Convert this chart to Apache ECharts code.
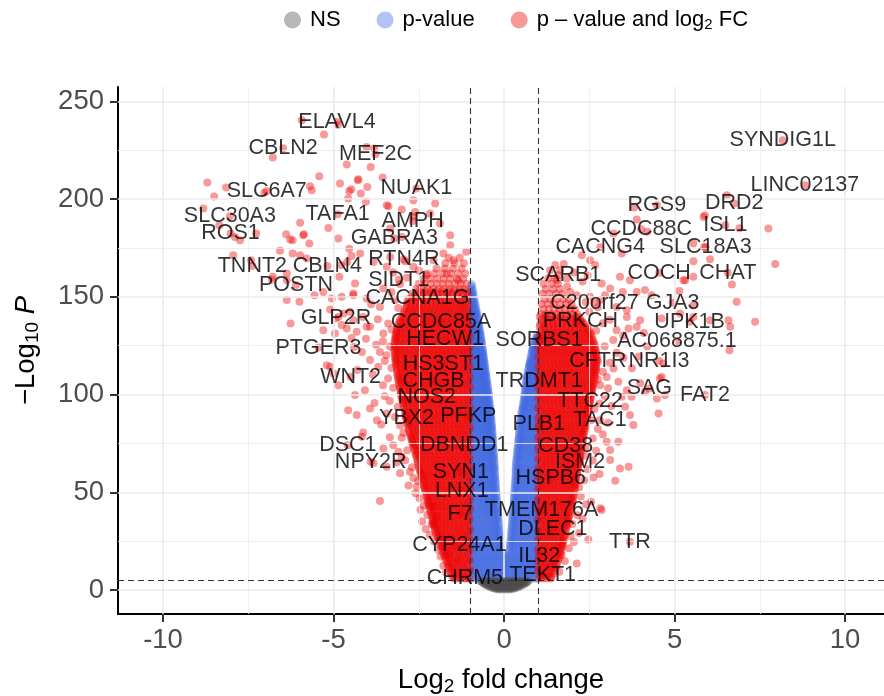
<!DOCTYPE html>
<html><head><meta charset="utf-8">
<script src="https://cdn.jsdelivr.net/npm/echarts@6/dist/echarts.min.js"></script>
<style>html,body{margin:0;padding:0;background:#fff}#c{width:884px;height:696px}</style>
</head><body><div id="c"></div>
<script>
const FONT = 'Liberation Sans, Arial, Helvetica, sans-serif';
const xTicks = [-10, -5, 0, 5, 10];
const yTicks = [0, 50, 100, 150, 200, 250];
const xMinor = [-7.5, -2.5, 2.5, 7.5];
const yMinor = [25, 75, 125, 175, 225];
const fcCutoffs = [-1, 1];
const pCutoff = 5;
const legendNames = ['NS', 'p-value', 'p – value and log2 FC'];

// labelled genes: [name, log2FC, -log10 P]
const labeledGenes = [
 ['ELAVL4',-4.9,239.5],['CBLN2',-6.48,226],['MEF2C',-3.77,222.9],['SLC6A7',-6.96,204.1],['NUAK1',-2.57,205.4],
 ['SLC30A3',-8.04,191.2],['TAFA1',-4.88,192.2],['AMPH',-2.68,188.7],['ROS1',-8.02,182.4],['GABRA3',-3.22,179.8],
 ['RTN4R',-2.94,169.1],['TNNT2',-7.38,165.7],['CBLN4',-5.18,165.7],['SIDT1',-3.09,158.7],['POSTN',-6.1,156],
 ['CACNA1G',-2.54,149.5],['GLP2R',-4.93,138.9],['CCDC85A',-1.85,136.8],['PTGER3',-5.44,124],['HECW1',-1.73,128.2],
 ['HS3ST1',-1.78,115.4],['WNT2',-4.5,109.1],['CHGB',-2.07,107],['NOS2',-2.27,98.8],['PFKP',-1.05,89],
 ['YBX2',-2.86,87.8],['DSC1',-4.58,74.1],['DBNDD1',-1.17,74.1],['NPY2R',-3.91,65.6],['SYN1',-1.27,60.5],
 ['LNX1',-1.24,50.6],['F7',-1.29,38.7],['CYP24A1',-1.31,23.2],['CHRM5',-1.15,6],
 ['SYNDIG1L',8.17,230],['LINC02137',8.82,207],['RGS9',4.48,196.8],['DRD2',6.75,197.7],['ISL1',6.49,186.6],
 ['CCDC88C',4.02,184.5],['CACNG4',2.82,175.3],['SLC18A3',5.91,175.3],['SCARB1',1.59,161],['COCH',4.55,162.3],
 ['CHAT',6.56,162.3],['C20orf27',2.65,147],['GJA3',4.94,147],['PRKCH',2.24,137.4],['UPK1B',5.44,137.2],
 ['AC068875.1',5.07,127.4],['SORBS1',1.03,127.8],['CFTR',2.75,117.2],['NR1I3',4.54,117.2],['TRDMT1',1.03,107],
 ['SAG',4.26,103.1],['FAT2',5.89,99.7],['TTC22',2.52,96.7],['TAC1',2.81,86.9],['PLB1',1.02,84.8],
 ['CD38',1.81,73.7],['ISM2',2.23,65.6],['HSPB6',1.37,57.1],['TMEM176A',1.1,40.9],['DLEC1',1.43,31.1],
 ['TTR',3.69,24.7],['IL32',1.03,17.5],['TEKT1',1.13,7.8]
];

// scattered significant genes, down-regulated side
const redSparseLeft = [
[-5.93,240.3],[-4.87,238],[-5.28,233],[-6.78,221.2],[-4.03,226.6],[-3.81,225.8],[-4.61,217.6],[-3.91,216.4],[-5.42,211.7],[-8.7,208.4],[-8.15,205.9],[-7.03,203.2],[-5.69,206.5],[-5.64,204.5],[-4.81,207.9],[-4.29,209.6],[-4.01,206.2],[-4.54,204],[-3.56,211],[-4.57,200.3],[-4.2,202.8],[-4.05,198.6],[-8.5,201.3],[-8.82,195.1],[-8.35,186.6],[-7.89,180.6],[-7.27,182.4],[-5.98,187.9],[-5.15,185.2],[-4.86,179.8],[-6.39,182],[-6.27,179.3],[-5.87,182],[-5.71,177.3],[-3.39,196.3],[-2.66,199.4],[-2.61,193.4],[-2.02,197.7],[-1.58,181.5],[-1.58,176.4],[-1.11,173],[-7.94,171.3],[-6.57,173.5],[-6.2,172.1],[-5.98,171.3],[-4.47,170.8],[-4.6,167.8],[-4.78,166.2],[-6.78,160.2],[-6.37,158.5],[-6.37,148.3],[-6,147.4],[-4.83,160.2],[-4.37,156.8],[-6.26,136.3],[-5.1,143.5],
[-4.48,205],[-4.27,210.1],[-7.74,178.9],[-6.2,178.9],[-5.89,181.5],[-7.42,168.7],[-4.54,174.6],[-5.79,169.6],[-6.37,161.9],[-6.81,158.8],[-3.34,170.4],[-5.56,150.8],[-5.3,152.5],[-5.05,149.1],[-4.76,150],[-4.42,150.8],[-3.54,154.2],[-3.2,148.3],[-3.64,144.8],[-4.86,139.7],[-4.52,142.3],[-4.13,139.7],[-5.3,132.9],[-4.96,131.2],[-4.61,133.8],[-4.32,132.1],[-3.93,134.6],[-3.54,131.2],
[-5.1,114.2],[-4.86,104.8],[-4.37,99.7],[-4.57,92],[-4.32,89.5],[-4.08,102.2],[-4.17,121.8],[-3.93,117.6],[-3.64,121.8],[-3.69,114.2],[-4.76,135.5],[-4.47,128.9],[-3.93,92.9],[-3.73,86.9],[-3.44,90.3],[-3.54,72.4],[-3.25,74.1],[-3.1,70.7],[-2.76,60.5],[-3.05,59.7],[-3.64,45.5],[-2.56,52.8],[-2.32,52],[-4.17,78.4],[-3.83,64.8],[-3.44,63],[-4.13,80.6],[-3.0,68.1],[-5.2,115],[-5.0,110.8],[-2.07,42.6],[-1.97,37.5],[-1.63,17.9],[-1.34,15.3],
[-3.44,196.8],[-3.0,194.6],[-2.66,190.9],[-2.17,192.6],[-1.88,187.5],[-3.34,184.9],[-3.0,180.6],[-1.78,172.1],[-1.49,168.7],[-2.07,168.7],[-4.22,172.1],[-3.83,167.8],[-3.44,165.3],[-2.66,165.3],[-2.27,161],[-1.68,161.9],[-1.34,158.5],[-4.42,151.7],[-4.03,149.1],[-4.71,141.5],[-4.42,138],[-4.03,134.6],
[-1.78,12.4],[-1.86,17.2],[-1.92,20.5],[-1.7,8.8],[-2.05,24.8],[-2.18,28.3],[-2.12,33.6],[-2.3,31.2],[-2.25,38.4],[-2.4,35.1],[-2.35,43.2],[-2.48,46.9],[-2.6,49.5],[-2.52,55.8],[-2.66,57.3],[-2.8,53.4],[-2.45,41],[-2.7,62.8],[-2.9,66.4],[-2.84,71.5],[-3.0,77.9],[-3.15,65.2],[-2.95,80.4],[-3.35,78.1],[-3.05,84.2],[-3.2,88.5],[-3.12,93.8],[-3.35,96.7],[-3.5,99.1],[-3.6,84.6],[-3.8,95.6],[-3.25,103.5],[-3.4,108.2],[-3.55,104.7],[-3.3,113.6],[-3.5,117.2],[-3.85,110.3],[-4.3,112.5],[-3.45,120.1],[-3.35,124.6],[-3.55,127.3],[-3.75,125.4],[-3.4,136.3],[-3.7,138.5],[-4.05,128.5],[-4.4,124.3],[-3.3,133.2],[-3.1,144.2],[-3.3,152.3],[-3.9,146.2],[-3.05,156.5],[-2.85,159.7],[-3.25,162.4],[-2.5,163.5],[-2.9,168.2]
];

// scattered significant genes, up-regulated side
const redSparseRight = [
[3.81,195.6],[3.89,189.5],[4.2,183.2],[5.89,191.7],[7.75,184.9],[6.9,185],[2.28,171.3],[2.52,168.7],[2.67,166.2],[1.5,166.2],[1.35,163.6],[3.45,172.1],[5.55,168.2],[6.04,169.2],[7.95,166.7],[3.4,160.2],[3.69,158.5],[5.31,158.5],[5.55,160.2],[6.68,156.3],[2.86,156.8],[3.11,154.2],[2.96,150.8],[3.89,152.5],[4.13,153.4],[4.33,150.8],[1.94,152.5],[2.13,150.8],[5.55,145.7],[6.82,147.4],[7.36,137.2],[6.58,138],[6.63,134.6],[3.6,139.7],[3.89,134.6],[3.65,133.8],[6.61,122.7],
[6.53,201.9],[5.85,190.8],[3.21,182.4],[5.55,177.3],[5.87,175.5],[1.64,163.6],[1.84,159.4],[3.48,152.5],[5.14,153],[5.26,158.5],[2.52,150],[2.82,148.3],[3.99,138],[4.62,138.9],[5.16,141.5],[5.55,139.7],[6.04,138],[3.3,144.8],[3.6,143.1],
[4.62,109],[4.53,90.3],[3.69,89.5],[3.79,84.4],[3.01,75.8],[3.35,75.8],[3.11,66.5],[3.4,62.2],[3.65,63],[2.62,57.6],[3.26,55.9],[2.82,41.8],[2.47,25.9],[1.69,17.9],[4.67,115.9],[4.57,108.2],[3.99,105.7],[4.13,101.4],[3.6,102.2],[3.45,98.8],[3.74,98.8],[3.01,109],[3.21,113.3],[3.35,106.5],[2.82,104.8],[3.55,93.7],[4.72,99.7],[4.48,98],[3.11,71.6],[2.86,40.9],[2.13,13.6],
[1.62,9.4],[1.78,14.8],[1.9,21.3],[2.05,24.6],[2.2,29.1],[1.95,27.6],[2.0,33.8],[2.15,38.2],[2.3,36.5],[2.4,43.7],[2.25,47.8],[2.55,45.2],[2.2,52.6],[2.35,56.1],[2.45,61.8],[2.6,66.3],[2.8,59.4],[2.38,68.7],[2.45,73.2],[2.6,77.5],[2.75,82.4],[2.9,79.6],[2.55,86.8],[3.05,85.5],[2.7,71.2],[2.65,92.6],[2.8,95.4],[2.95,99.2],[3.15,94.1],[2.75,107.7],[3.05,103.2],[2.9,111.6],[3.1,116.3],[3.3,121.4],[3.5,118.8],[2.95,124.7],[3.2,127.9],[3.75,113.4],[3.95,119.5],[4.2,124.6],[3.5,130.2],[4.1,131.5],[2.7,132.6],[2.9,136.4],[3.1,138.2],[2.5,142.3],[2.75,144.6],[2.4,147.3],[3.3,132.9],[1.85,155.3],[2.3,157.8],[1.55,158.6],[2.05,162.4],[1.75,166.8],[2.45,160.9]
];

// dense band of significant down-regulated genes: [-log10P, [log2FC...]]
const redLeftRows = [
[5.9,[-1.03,-1.14,-1.27,-1.39,-1.47]],
[7.1,[-1.09,-1.21,-1.33,-1.45,-1.52]],
[8.4,[-1.07,-1.2,-1.32,-1.44,-1.55]],
[9.7,[-1.0,-1.13,-1.25,-1.37,-1.49,-1.58]],
[11.1,[-1.02,-1.15,-1.26,-1.4,-1.51,-1.61]],
[12.3,[-1.09,-1.21,-1.33,-1.45,-1.57,-1.64]],
[13.6,[-1.08,-1.19,-1.33,-1.45,-1.57,-1.66]],
[14.9,[-1.0,-1.12,-1.25,-1.37,-1.49,-1.61,-1.69]],
[16.3,[-1.03,-1.14,-1.28,-1.4,-1.52,-1.63,-1.72]],
[17.5,[-1.09,-1.21,-1.33,-1.46,-1.58,-1.7,-1.75]],
[18.8,[-1.06,-1.2,-1.31,-1.44,-1.56,-1.68,-1.78]],
[20.1,[-1.0,-1.12,-1.24,-1.36,-1.48,-1.6,-1.71,-1.8]],
[21.5,[-1.02,-1.15,-1.27,-1.39,-1.5,-1.63,-1.74,-1.83]],
[22.7,[-1.09,-1.21,-1.33,-1.45,-1.57,-1.69,-1.8,-1.86]],
[24.0,[-1.08,-1.19,-1.32,-1.45,-1.56,-1.69,-1.8,-1.89]],
[25.3,[-1.0,-1.12,-1.24,-1.36,-1.48,-1.6,-1.72,-1.83,-1.91]],
[26.7,[-1.03,-1.14,-1.26,-1.4,-1.51,-1.63,-1.76,-1.87,-1.94]],
[27.9,[-1.09,-1.21,-1.33,-1.45,-1.57,-1.69,-1.81,-1.92,-1.97]],
[29.2,[-1.06,-1.2,-1.31,-1.43,-1.57,-1.68,-1.81,-1.92,-2.0]],
[30.5,[-1.0,-1.12,-1.24,-1.36,-1.48,-1.6,-1.72,-1.84,-1.95,-2.02]],
[31.9,[-1.02,-1.15,-1.27,-1.38,-1.5,-1.64,-1.75,-1.87,-1.98,-2.04]],
[33.1,[-1.09,-1.21,-1.33,-1.45,-1.57,-1.69,-1.81,-1.93,-2.04,-2.07]],
[34.4,[-1.07,-1.19,-1.32,-1.45,-1.56,-1.69,-1.8,-1.93,-2.03,-2.09]],
[35.7,[-1.0,-1.12,-1.24,-1.36,-1.48,-1.6,-1.72,-1.84,-1.96,-2.06,-2.1]],
[37.1,[-1.03,-1.14,-1.27,-1.39,-1.51,-1.63,-1.76,-1.88,-1.99,-2.1]],
[38.3,[-1.09,-1.21,-1.33,-1.45,-1.57,-1.69,-1.81,-1.93,-2.05,-2.13]],
[39.6,[-1.08,-1.2,-1.31,-1.44,-1.57,-1.68,-1.81,-1.93,-2.05,-2.15]],
[40.9,[-1.0,-1.12,-1.24,-1.36,-1.48,-1.6,-1.72,-1.84,-1.96,-2.08,-2.17]],
[42.3,[-1.02,-1.15,-1.26,-1.38,-1.5,-1.63,-1.75,-1.86,-1.99,-2.11,-2.19]],
[43.5,[-1.09,-1.21,-1.33,-1.45,-1.57,-1.69,-1.81,-1.93,-2.05,-2.17,-2.21]],
[44.8,[-1.06,-1.19,-1.32,-1.45,-1.56,-1.69,-1.81,-1.92,-2.04,-2.16,-2.23]],
[46.1,[-1.0,-1.12,-1.24,-1.36,-1.48,-1.6,-1.72,-1.84,-1.96,-2.08,-2.2,-2.25]],
[47.5,[-1.03,-1.14,-1.27,-1.39,-1.51,-1.64,-1.75,-1.88,-2.0,-2.12,-2.22,-2.27]],
[48.7,[-1.09,-1.21,-1.33,-1.45,-1.57,-1.69,-1.81,-1.93,-2.05,-2.17,-2.28]],
[50.0,[-1.07,-1.2,-1.31,-1.44,-1.57,-1.68,-1.8,-1.93,-2.05,-2.17,-2.3]],
[51.3,[-1.0,-1.12,-1.24,-1.36,-1.48,-1.6,-1.72,-1.84,-1.96,-2.08,-2.2,-2.32]],
[52.7,[-1.02,-1.15,-1.27,-1.38,-1.5,-1.63,-1.76,-1.87,-1.99,-2.11,-2.23,-2.34]],
[53.9,[-1.09,-1.21,-1.33,-1.45,-1.57,-1.69,-1.81,-1.93,-2.05,-2.17,-2.29,-2.36]],
[55.2,[-1.08,-1.19,-1.32,-1.45,-1.56,-1.69,-1.81,-1.93,-2.04,-2.17,-2.28,-2.38]],
[56.5,[-1.0,-1.12,-1.24,-1.36,-1.48,-1.6,-1.72,-1.84,-1.96,-2.08,-2.2,-2.32,-2.4]],
[57.9,[-1.03,-1.14,-1.26,-1.39,-1.51,-1.63,-1.75,-1.88,-2.0,-2.12,-2.24,-2.35,-2.42]],
[59.1,[-1.09,-1.21,-1.33,-1.45,-1.57,-1.69,-1.81,-1.93,-2.05,-2.17,-2.29,-2.41,-2.44]],
[60.4,[-1.06,-1.2,-1.31,-1.44,-1.57,-1.68,-1.8,-1.92,-2.05,-2.18,-2.29,-2.4,-2.46]],
[61.7,[-1.0,-1.12,-1.24,-1.36,-1.48,-1.6,-1.72,-1.84,-1.96,-2.08,-2.2,-2.32,-2.44,-2.48]],
[63.1,[-1.02,-1.15,-1.27,-1.38,-1.5,-1.64,-1.76,-1.87,-1.99,-2.11,-2.23,-2.36,-2.5]],
[64.3,[-1.09,-1.21,-1.33,-1.45,-1.57,-1.69,-1.81,-1.93,-2.05,-2.17,-2.29,-2.41,-2.52]],
[65.6,[-1.07,-1.19,-1.32,-1.45,-1.56,-1.69,-1.81,-1.93,-2.04,-2.16,-2.29,-2.41,-2.53]],
[66.9,[-1.0,-1.12,-1.24,-1.36,-1.48,-1.6,-1.72,-1.84,-1.96,-2.08,-2.2,-2.32,-2.44,-2.55]],
[68.3,[-1.03,-1.14,-1.27,-1.39,-1.51,-1.63,-1.75,-1.88,-2.0,-2.12,-2.24,-2.35,-2.47,-2.57]],
[69.5,[-1.09,-1.21,-1.33,-1.45,-1.57,-1.69,-1.81,-1.93,-2.05,-2.17,-2.29,-2.41,-2.53,-2.59]],
[70.8,[-1.08,-1.2,-1.31,-1.44,-1.57,-1.68,-1.8,-1.92,-2.05,-2.18,-2.3,-2.42,-2.53,-2.61]],
[72.1,[-1.0,-1.12,-1.24,-1.36,-1.48,-1.6,-1.72,-1.84,-1.96,-2.08,-2.2,-2.32,-2.44,-2.56,-2.64]],
[73.5,[-1.02,-1.15,-1.26,-1.38,-1.5,-1.63,-1.76,-1.87,-1.99,-2.11,-2.24,-2.36,-2.48,-2.6,-2.66]],
[74.7,[-1.09,-1.21,-1.33,-1.45,-1.57,-1.69,-1.81,-1.93,-2.05,-2.17,-2.29,-2.41,-2.53,-2.65,-2.68]],
[76.0,[-1.06,-1.19,-1.32,-1.45,-1.56,-1.69,-1.81,-1.93,-2.04,-2.17,-2.29,-2.41,-2.54,-2.66,-2.7]],
[77.3,[-1.0,-1.12,-1.24,-1.36,-1.48,-1.6,-1.72,-1.84,-1.96,-2.08,-2.2,-2.32,-2.44,-2.56,-2.68,-2.72]],
[78.7,[-1.03,-1.14,-1.27,-1.39,-1.51,-1.64,-1.75,-1.88,-2.0,-2.12,-2.23,-2.36,-2.48,-2.59,-2.71,-2.74]],
[79.9,[-1.09,-1.21,-1.33,-1.45,-1.57,-1.69,-1.81,-1.93,-2.05,-2.17,-2.29,-2.41,-2.53,-2.65,-2.76]],
[81.2,[-1.07,-1.2,-1.31,-1.44,-1.57,-1.68,-1.8,-1.92,-2.05,-2.17,-2.3,-2.42,-2.54,-2.65,-2.78]],
[82.5,[-1.0,-1.12,-1.24,-1.36,-1.48,-1.6,-1.72,-1.84,-1.96,-2.08,-2.2,-2.32,-2.44,-2.56,-2.68,-2.8]],
[83.9,[-1.02,-1.15,-1.27,-1.38,-1.5,-1.63,-1.76,-1.87,-1.99,-2.11,-2.24,-2.35,-2.48,-2.6,-2.72,-2.81]],
[85.1,[-1.09,-1.21,-1.33,-1.45,-1.57,-1.69,-1.81,-1.93,-2.05,-2.17,-2.29,-2.41,-2.53,-2.65,-2.77,-2.83]],
[86.4,[-1.08,-1.19,-1.32,-1.45,-1.56,-1.69,-1.81,-1.93,-2.04,-2.16,-2.29,-2.41,-2.53,-2.66,-2.78,-2.85]],
[87.7,[-1.0,-1.12,-1.24,-1.36,-1.48,-1.6,-1.72,-1.84,-1.96,-2.08,-2.2,-2.32,-2.44,-2.56,-2.68,-2.8,-2.87]],
[89.1,[-1.03,-1.14,-1.26,-1.39,-1.51,-1.64,-1.75,-1.88,-2.0,-2.12,-2.24,-2.36,-2.47,-2.6,-2.71,-2.83,-2.89]],
[90.3,[-1.09,-1.21,-1.33,-1.45,-1.57,-1.69,-1.81,-1.93,-2.05,-2.17,-2.29,-2.41,-2.53,-2.65,-2.77,-2.89]],
[91.6,[-1.06,-1.2,-1.31,-1.44,-1.57,-1.68,-1.8,-1.92,-2.05,-2.18,-2.29,-2.41,-2.54,-2.65,-2.77,-2.9]],
[92.9,[-1.0,-1.12,-1.24,-1.36,-1.48,-1.6,-1.72,-1.84,-1.96,-2.08,-2.2,-2.32,-2.44,-2.56,-2.68,-2.8,-2.92]],
[94.3,[-1.02,-1.15,-1.27,-1.38,-1.5,-1.63,-1.76,-1.87,-1.99,-2.11,-2.23,-2.35,-2.48,-2.6,-2.72,-2.84,-2.95]],
[95.5,[-1.09,-1.21,-1.33,-1.45,-1.57,-1.69,-1.81,-1.93,-2.05,-2.17,-2.29,-2.41,-2.53,-2.65,-2.77,-2.89,-2.96]],
[96.8,[-1.07,-1.19,-1.32,-1.45,-1.56,-1.69,-1.81,-1.93,-2.04,-2.17,-2.29,-2.42,-2.53,-2.66,-2.78,-2.9,-2.98]],
[98.1,[-1.0,-1.12,-1.24,-1.36,-1.48,-1.6,-1.72,-1.84,-1.96,-2.08,-2.2,-2.32,-2.44,-2.56,-2.68,-2.8,-2.92,-3.0]],
[99.5,[-1.03,-1.14,-1.27,-1.39,-1.51,-1.63,-1.75,-1.88,-2.0,-2.12,-2.24,-2.36,-2.48,-2.59,-2.72,-2.84,-2.96,-3.02]],
[100.7,[-1.09,-1.21,-1.33,-1.45,-1.57,-1.69,-1.81,-1.93,-2.05,-2.17,-2.29,-2.41,-2.53,-2.65,-2.77,-2.89,-3.01,-3.03]],
[102.0,[-1.08,-1.2,-1.31,-1.44,-1.57,-1.68,-1.8,-1.92,-2.05,-2.17,-2.3,-2.41,-2.54,-2.66,-2.78,-2.9,-3.04]],
[103.3,[-1.0,-1.12,-1.24,-1.36,-1.48,-1.6,-1.72,-1.84,-1.96,-2.08,-2.2,-2.32,-2.44,-2.56,-2.68,-2.8,-2.92,-3.05]],
[104.7,[-1.02,-1.15,-1.26,-1.38,-1.5,-1.64,-1.76,-1.87,-1.99,-2.11,-2.24,-2.36,-2.47,-2.6,-2.72,-2.84,-2.96,-3.07]],
[105.9,[-1.09,-1.21,-1.33,-1.45,-1.57,-1.69,-1.81,-1.93,-2.05,-2.17,-2.29,-2.41,-2.53,-2.65,-2.77,-2.89,-3.01,-3.08]],
[107.2,[-1.06,-1.19,-1.32,-1.45,-1.56,-1.69,-1.81,-1.93,-2.04,-2.16,-2.29,-2.41,-2.53,-2.65,-2.78,-2.9,-3.02,-3.1]],
[108.5,[-1.0,-1.12,-1.24,-1.36,-1.48,-1.6,-1.72,-1.84,-1.96,-2.08,-2.2,-2.32,-2.44,-2.56,-2.68,-2.8,-2.92,-3.04,-3.11]],
[109.9,[-1.03,-1.14,-1.27,-1.39,-1.51,-1.63,-1.75,-1.88,-2.0,-2.12,-2.23,-2.35,-2.48,-2.6,-2.71,-2.84,-2.96,-3.08,-3.13]],
[111.1,[-1.09,-1.21,-1.33,-1.45,-1.57,-1.69,-1.81,-1.93,-2.05,-2.17,-2.29,-2.41,-2.53,-2.65,-2.77,-2.89,-3.01,-3.13]],
[112.4,[-1.07,-1.2,-1.31,-1.44,-1.57,-1.68,-1.8,-1.92,-2.05,-2.18,-2.3,-2.42,-2.54,-2.66,-2.77,-2.9,-3.02,-3.14]],
[113.7,[-1.0,-1.12,-1.24,-1.36,-1.48,-1.6,-1.72,-1.84,-1.96,-2.08,-2.2,-2.32,-2.44,-2.56,-2.68,-2.8,-2.92,-3.04,-3.15]],
[115.1,[-1.02,-1.15,-1.27,-1.38,-1.5,-1.63,-1.76,-1.87,-1.99,-2.11,-2.24,-2.36,-2.48,-2.59,-2.72,-2.84,-2.95,-3.07,-3.17]],
[116.3,[-1.09,-1.21,-1.33,-1.45,-1.57,-1.69,-1.81,-1.93,-2.05,-2.17,-2.29,-2.41,-2.53,-2.65,-2.77,-2.89,-3.01,-3.13,-3.18]],
[117.6,[-1.08,-1.19,-1.32,-1.45,-1.56,-1.69,-1.81,-1.93,-2.04,-2.17,-2.29,-2.41,-2.53,-2.66,-2.78,-2.9,-3.02,-3.14,-3.19]],
[118.9,[-1.0,-1.12,-1.24,-1.36,-1.48,-1.6,-1.72,-1.84,-1.96,-2.08,-2.2,-2.32,-2.44,-2.56,-2.68,-2.8,-2.92,-3.04,-3.16,-3.2]],
[120.3,[-1.03,-1.14,-1.26,-1.39,-1.51,-1.64,-1.75,-1.88,-2.0,-2.12,-2.24,-2.36,-2.47,-2.6,-2.72,-2.84,-2.96,-3.08,-3.2]],
[121.5,[-1.09,-1.21,-1.33,-1.45,-1.57,-1.69,-1.81,-1.93,-2.05,-2.17,-2.29,-2.41,-2.53,-2.65,-2.77,-2.89,-3.01,-3.13,-3.21]],
[122.8,[-1.06,-1.2,-1.31,-1.44,-1.57,-1.68,-1.8,-1.92,-2.05,-2.17,-2.29,-2.42,-2.54,-2.65,-2.78,-2.9,-3.01,-3.13,-3.22]],
[124.1,[-1.0,-1.12,-1.24,-1.36,-1.48,-1.6,-1.72,-1.84,-1.96,-2.08,-2.2,-2.32,-2.44,-2.56,-2.68,-2.8,-2.92,-3.04,-3.16,-3.22]],
[125.5,[-1.02,-1.15,-1.27,-1.38,-1.5,-1.63,-1.76,-1.87,-1.99,-2.11,-2.23,-2.35,-2.48,-2.6,-2.71,-2.84,-2.96,-3.08,-3.21]],
[126.7,[-1.09,-1.21,-1.33,-1.45,-1.57,-1.69,-1.81,-1.93,-2.05,-2.17,-2.29,-2.41,-2.53,-2.65,-2.77,-2.89,-3.01,-3.13,-3.21]],
[128.0,[-1.07,-1.19,-1.32,-1.45,-1.56,-1.69,-1.81,-1.93,-2.04,-2.16,-2.29,-2.41,-2.53,-2.66,-2.77,-2.9,-3.02,-3.15,-3.2]],
[129.3,[-1.0,-1.12,-1.24,-1.36,-1.48,-1.6,-1.72,-1.84,-1.96,-2.08,-2.2,-2.32,-2.44,-2.56,-2.68,-2.8,-2.92,-3.04,-3.16,-3.19]],
[130.7,[-1.03,-1.14,-1.27,-1.39,-1.51,-1.63,-1.75,-1.88,-2.0,-2.12,-2.24,-2.36,-2.48,-2.6,-2.72,-2.84,-2.96,-3.08,-3.18]],
[131.9,[-1.09,-1.21,-1.33,-1.45,-1.57,-1.69,-1.81,-1.93,-2.05,-2.17,-2.29,-2.41,-2.53,-2.65,-2.77,-2.89,-3.01,-3.13,-3.16]],
[133.2,[-1.08,-1.2,-1.31,-1.44,-1.57,-1.68,-1.8,-1.92,-2.05,-2.18,-2.3,-2.41,-2.54,-2.66,-2.78,-2.9,-3.02,-3.15]],
[134.5,[-1.0,-1.12,-1.24,-1.36,-1.48,-1.6,-1.72,-1.84,-1.96,-2.08,-2.2,-2.32,-2.44,-2.56,-2.68,-2.8,-2.92,-3.04,-3.12]],
[135.9,[-1.04,-1.15,-1.26,-1.38,-1.5,-1.64,-1.76,-1.87,-1.99,-2.11,-2.24,-2.36,-2.47,-2.6,-2.72,-2.84,-2.96,-3.1]],
[137.1,[-1.09,-1.21,-1.33,-1.45,-1.57,-1.69,-1.81,-1.93,-2.05,-2.17,-2.29,-2.41,-2.53,-2.65,-2.77,-2.89,-3.01,-3.07]],
[138.4,[-1.09,-1.19,-1.32,-1.45,-1.56,-1.69,-1.81,-1.93,-2.04,-2.17,-2.29,-2.41,-2.53,-2.65,-2.78,-2.9,-3.05]],
[139.7,[-1.02,-1.14,-1.26,-1.38,-1.5,-1.62,-1.74,-1.86,-1.98,-2.1,-2.22,-2.34,-2.46,-2.58,-2.7,-2.82,-2.94,-3.0]],
[141.1,[-1.05,-1.14,-1.27,-1.39,-1.51,-1.63,-1.75,-1.88,-2.0,-2.12,-2.23,-2.35,-2.48,-2.6,-2.71,-2.84,-2.96]],
[142.3,[-1.12,-1.24,-1.36,-1.48,-1.6,-1.72,-1.84,-1.96,-2.08,-2.2,-2.32,-2.44,-2.56,-2.68,-2.8,-2.92]],
[143.6,[-1.1,-1.2,-1.31,-1.44,-1.57,-1.68,-1.8,-1.92,-2.05,-2.17,-2.3,-2.42,-2.54,-2.66,-2.77,-2.9]],
[144.9,[-1.05,-1.17,-1.29,-1.41,-1.53,-1.65,-1.77,-1.89,-2.01,-2.13,-2.25,-2.37,-2.49,-2.61,-2.73,-2.86]],
[146.3,[-1.06,-1.18,-1.27,-1.38,-1.5,-1.63,-1.76,-1.87,-1.99,-2.11,-2.24,-2.36,-2.48,-2.59,-2.72,-2.85]],
[147.5,[-1.15,-1.3,-1.44,-1.58,-1.72,-1.86,-2.0,-2.14,-2.28,-2.42,-2.56,-2.7,-2.83]],
[148.8,[-1.12,-1.25,-1.36,-1.49,-1.62,-1.75,-1.88,-2.01,-2.14,-2.27,-2.4,-2.53,-2.66,-2.8]],
[150.1,[-1.06,-1.2,-1.35,-1.5,-1.65,-1.8,-1.95,-2.1,-2.25,-2.4,-2.55,-2.68]],
[151.5,[-1.08,-1.22,-1.37,-1.52,-1.66,-1.8,-1.95,-2.1,-2.25,-2.4,-2.55,-2.7]],
[152.8,[-1.12,-1.3,-1.47,-1.64,-1.81,-1.98,-2.15,-2.32,-2.5]],
[154.0,[-1.15,-1.3,-1.46,-1.6,-1.77,-1.92,-2.08,-2.24,-2.41,-2.58]],
[156.7,[-1.1,-1.27,-1.44,-1.62,-1.79,-1.97,-2.15,-2.33,-2.5]],
[159.2,[-1.2,-1.38,-1.58,-1.77,-1.96,-2.16,-2.36]],
[161.9,[-1.14,-1.35,-1.56,-1.8,-2.03,-2.25]],
[164.4,[-1.25,-1.5,-1.74,-1.98]],
[167.1,[-1.18,-1.45,-1.72]],
[170.0,[-1.3,-1.62]]
];

// dense band of significant up-regulated genes
const redRightRows = [
[5.9,[1.03,1.14,1.26,1.37]],
[7.1,[1.09,1.21,1.33,1.4]],
[8.4,[1.07,1.19,1.31,1.43]],
[9.7,[1.0,1.12,1.24,1.36,1.47]],
[11.1,[1.02,1.14,1.26,1.38,1.5]],
[12.3,[1.09,1.21,1.33,1.45,1.53]],
[13.6,[1.08,1.2,1.32,1.44,1.55]],
[14.9,[1.0,1.12,1.24,1.36,1.48,1.58]],
[16.3,[1.03,1.15,1.27,1.39,1.51,1.61]],
[17.5,[1.09,1.21,1.33,1.45,1.57,1.63]],
[18.8,[1.06,1.18,1.3,1.42,1.54,1.65]],
[20.1,[1.0,1.12,1.24,1.36,1.48,1.6,1.67]],
[21.5,[1.02,1.14,1.26,1.38,1.5,1.62,1.69]],
[22.7,[1.09,1.21,1.33,1.45,1.57,1.69,1.71]],
[24.0,[1.08,1.2,1.32,1.44,1.56,1.67,1.73]],
[25.3,[1.0,1.12,1.24,1.36,1.48,1.6,1.72,1.75]],
[26.7,[1.03,1.15,1.27,1.39,1.51,1.63,1.75]],
[27.9,[1.09,1.21,1.33,1.45,1.57,1.69,1.78]],
[29.2,[1.07,1.19,1.31,1.43,1.55,1.67,1.79]],
[30.5,[1.0,1.12,1.24,1.36,1.48,1.6,1.72,1.81]],
[31.9,[1.02,1.14,1.26,1.38,1.5,1.62,1.74,1.83]],
[33.1,[1.09,1.21,1.33,1.45,1.57,1.69,1.81,1.85]],
[34.4,[1.08,1.2,1.32,1.44,1.56,1.68,1.8,1.87]],
[35.7,[1.0,1.12,1.24,1.36,1.48,1.6,1.72,1.84,1.88]],
[37.1,[1.03,1.15,1.27,1.39,1.51,1.63,1.75,1.86,1.9]],
[38.3,[1.09,1.21,1.33,1.45,1.57,1.69,1.81,1.92]],
[39.6,[1.06,1.18,1.3,1.42,1.54,1.66,1.78,1.9,1.94]],
[40.9,[1.0,1.12,1.24,1.36,1.48,1.6,1.72,1.84,1.95]],
[42.3,[1.02,1.14,1.26,1.38,1.5,1.62,1.74,1.86,1.97]],
[43.5,[1.09,1.21,1.33,1.45,1.57,1.69,1.81,1.93,1.99]],
[44.8,[1.08,1.2,1.32,1.44,1.56,1.68,1.8,1.92,2.0]],
[46.1,[1.0,1.12,1.24,1.36,1.48,1.6,1.72,1.84,1.96,2.02]],
[47.5,[1.03,1.15,1.27,1.39,1.51,1.63,1.75,1.87,1.98,2.03]],
[48.7,[1.09,1.21,1.33,1.45,1.57,1.69,1.81,1.93,2.04]],
[50.0,[1.07,1.19,1.31,1.43,1.55,1.67,1.79,1.91,2.05]],
[51.3,[1.0,1.12,1.24,1.36,1.48,1.6,1.72,1.84,1.96,2.07]],
[52.7,[1.02,1.14,1.26,1.38,1.5,1.62,1.74,1.86,1.98,2.08]],
[53.9,[1.09,1.21,1.33,1.45,1.57,1.69,1.81,1.93,2.05,2.09]],
[55.2,[1.08,1.2,1.32,1.44,1.56,1.68,1.8,1.92,2.03,2.1]],
[56.5,[1.0,1.12,1.24,1.36,1.48,1.6,1.72,1.84,1.96,2.08,2.11]],
[57.9,[1.03,1.15,1.27,1.39,1.51,1.63,1.75,1.87,1.99,2.12]],
[59.1,[1.09,1.21,1.33,1.45,1.57,1.69,1.81,1.93,2.05,2.14]],
[60.4,[1.06,1.18,1.3,1.42,1.54,1.66,1.78,1.9,2.02,2.15]],
[61.7,[1.0,1.12,1.24,1.36,1.48,1.6,1.72,1.84,1.96,2.08,2.16]],
[63.1,[1.02,1.14,1.26,1.38,1.5,1.62,1.74,1.86,1.98,2.1,2.18]],
[64.3,[1.09,1.21,1.33,1.45,1.57,1.69,1.81,1.93,2.05,2.17,2.19]],
[65.6,[1.08,1.2,1.32,1.44,1.56,1.68,1.8,1.92,2.04,2.15,2.2]],
[66.9,[1.0,1.12,1.24,1.36,1.48,1.6,1.72,1.84,1.96,2.08,2.2,2.22]],
[68.3,[1.03,1.15,1.27,1.39,1.51,1.63,1.75,1.87,1.99,2.11,2.23]],
[69.5,[1.09,1.21,1.33,1.45,1.57,1.69,1.81,1.93,2.05,2.17,2.24]],
[70.8,[1.07,1.19,1.31,1.43,1.55,1.67,1.79,1.91,2.03,2.15,2.25]],
[72.1,[1.0,1.12,1.24,1.36,1.48,1.6,1.72,1.84,1.96,2.08,2.2,2.27]],
[73.5,[1.02,1.14,1.26,1.38,1.5,1.62,1.74,1.86,1.98,2.1,2.21,2.28]],
[74.7,[1.09,1.21,1.33,1.45,1.57,1.69,1.81,1.93,2.05,2.17,2.29]],
[76.0,[1.08,1.2,1.32,1.44,1.56,1.68,1.8,1.92,2.04,2.16,2.3]],
[77.3,[1.0,1.12,1.24,1.36,1.48,1.6,1.72,1.84,1.96,2.08,2.2,2.31]],
[78.7,[1.03,1.15,1.27,1.39,1.51,1.63,1.75,1.87,1.99,2.11,2.23,2.33]],
[79.9,[1.09,1.21,1.33,1.45,1.57,1.69,1.81,1.93,2.05,2.17,2.29,2.34]],
[81.2,[1.06,1.18,1.3,1.42,1.54,1.66,1.78,1.9,2.02,2.14,2.26,2.36]],
[82.5,[1.0,1.12,1.24,1.36,1.48,1.6,1.72,1.84,1.96,2.08,2.2,2.32,2.37]],
[83.9,[1.02,1.14,1.26,1.38,1.5,1.62,1.74,1.86,1.98,2.1,2.22,2.34,2.39]],
[85.1,[1.09,1.21,1.33,1.45,1.57,1.69,1.81,1.93,2.05,2.17,2.29,2.4]],
[86.4,[1.08,1.2,1.32,1.44,1.56,1.68,1.8,1.92,2.04,2.16,2.28,2.41]],
[87.7,[1.0,1.12,1.24,1.36,1.48,1.6,1.72,1.84,1.96,2.08,2.2,2.32,2.42]],
[89.1,[1.03,1.15,1.27,1.39,1.51,1.63,1.75,1.87,1.99,2.11,2.23,2.35,2.44]],
[90.3,[1.09,1.21,1.33,1.45,1.57,1.69,1.81,1.93,2.05,2.17,2.29,2.41,2.45]],
[91.6,[1.07,1.19,1.31,1.43,1.55,1.67,1.79,1.91,2.03,2.15,2.27,2.39,2.46]],
[92.9,[1.0,1.12,1.24,1.36,1.48,1.6,1.72,1.84,1.96,2.08,2.2,2.32,2.44,2.48]],
[94.3,[1.02,1.14,1.26,1.38,1.5,1.62,1.74,1.86,1.98,2.1,2.22,2.34,2.46,2.5]],
[95.5,[1.09,1.21,1.33,1.45,1.57,1.69,1.81,1.93,2.05,2.17,2.29,2.41,2.51]],
[96.8,[1.08,1.2,1.32,1.44,1.56,1.68,1.8,1.92,2.04,2.16,2.28,2.4,2.52]],
[98.1,[1.0,1.12,1.24,1.36,1.48,1.6,1.72,1.84,1.96,2.08,2.2,2.32,2.44,2.54]],
[99.5,[1.03,1.15,1.27,1.39,1.51,1.63,1.75,1.87,1.99,2.11,2.23,2.35,2.47,2.55]],
[100.7,[1.09,1.21,1.33,1.45,1.57,1.69,1.81,1.93,2.05,2.17,2.29,2.41,2.53,2.57]],
[102.0,[1.06,1.18,1.3,1.42,1.54,1.66,1.78,1.9,2.02,2.14,2.26,2.38,2.5,2.58]],
[103.3,[1.0,1.12,1.24,1.36,1.48,1.6,1.72,1.84,1.96,2.08,2.2,2.32,2.44,2.56,2.6]],
[104.7,[1.02,1.14,1.26,1.38,1.5,1.62,1.74,1.86,1.98,2.1,2.22,2.34,2.46,2.58,2.61]],
[105.9,[1.09,1.21,1.33,1.45,1.57,1.69,1.81,1.93,2.05,2.17,2.29,2.41,2.53,2.63]],
[107.2,[1.08,1.2,1.32,1.44,1.56,1.68,1.8,1.92,2.04,2.16,2.28,2.4,2.52,2.64]],
[108.5,[1.0,1.12,1.24,1.36,1.48,1.6,1.72,1.84,1.96,2.08,2.2,2.32,2.44,2.56,2.66]],
[109.9,[1.03,1.15,1.27,1.39,1.51,1.63,1.75,1.87,1.99,2.11,2.23,2.35,2.47,2.59,2.67]],
[111.1,[1.09,1.21,1.33,1.45,1.57,1.69,1.81,1.93,2.05,2.17,2.29,2.41,2.53,2.65,2.68]],
[112.4,[1.07,1.19,1.31,1.43,1.55,1.67,1.79,1.91,2.03,2.15,2.27,2.39,2.51,2.63,2.7]],
[113.7,[1.0,1.12,1.24,1.36,1.48,1.6,1.72,1.84,1.96,2.08,2.2,2.32,2.44,2.56,2.68,2.7]],
[115.1,[1.02,1.14,1.26,1.38,1.5,1.62,1.74,1.86,1.98,2.1,2.22,2.34,2.46,2.58,2.7]],
[116.3,[1.09,1.21,1.33,1.45,1.57,1.69,1.81,1.93,2.05,2.17,2.29,2.41,2.53,2.65,2.71]],
[117.6,[1.08,1.2,1.32,1.44,1.56,1.68,1.8,1.92,2.04,2.16,2.28,2.4,2.52,2.64,2.72]],
[118.9,[1.0,1.12,1.24,1.36,1.48,1.6,1.72,1.84,1.96,2.08,2.2,2.32,2.44,2.56,2.68,2.72]],
[120.3,[1.03,1.15,1.27,1.39,1.51,1.63,1.75,1.87,1.99,2.11,2.23,2.35,2.47,2.59,2.71]],
[121.5,[1.09,1.21,1.33,1.45,1.57,1.69,1.81,1.93,2.05,2.17,2.29,2.41,2.53,2.65,2.7]],
[122.8,[1.06,1.18,1.3,1.42,1.54,1.66,1.78,1.9,2.02,2.14,2.26,2.38,2.5,2.62,2.69]],
[124.1,[1.0,1.12,1.24,1.36,1.48,1.6,1.72,1.84,1.96,2.08,2.2,2.32,2.44,2.56,2.67]],
[125.5,[1.03,1.15,1.27,1.39,1.51,1.63,1.75,1.87,1.99,2.11,2.23,2.35,2.47,2.59,2.66]],
[126.7,[1.09,1.21,1.33,1.45,1.57,1.69,1.81,1.93,2.05,2.17,2.29,2.41,2.53,2.63]],
[128.0,[1.08,1.2,1.32,1.44,1.56,1.68,1.8,1.92,2.04,2.16,2.28,2.4,2.52,2.6]],
[129.3,[1.02,1.14,1.26,1.38,1.5,1.62,1.74,1.86,1.98,2.1,2.22,2.34,2.46,2.57]],
[130.7,[1.05,1.17,1.29,1.41,1.53,1.65,1.77,1.89,2.01,2.13,2.25,2.37,2.49,2.55]],
[131.9,[1.11,1.23,1.35,1.47,1.59,1.71,1.83,1.95,2.07,2.19,2.31,2.43,2.51]],
[133.2,[1.1,1.22,1.34,1.46,1.58,1.7,1.82,1.94,2.06,2.18,2.3,2.42,2.48]],
[134.5,[1.04,1.17,1.3,1.43,1.56,1.69,1.82,1.95,2.08,2.21,2.34,2.42]],
[135.9,[1.06,1.19,1.32,1.45,1.58,1.71,1.84,1.97,2.1,2.23,2.36]],
[137.1,[1.14,1.28,1.42,1.56,1.7,1.84,1.98,2.12,2.26,2.3]],
[138.4,[1.12,1.26,1.4,1.54,1.68,1.82,1.96,2.1,2.24]],
[139.7,[1.05,1.2,1.35,1.5,1.65,1.8,1.95,2.1,2.19]],
[141.1,[1.08,1.23,1.38,1.53,1.68,1.83,1.98,2.14]],
[143.6,[1.15,1.31,1.47,1.63,1.79,1.95,2.08]],
[146.3,[1.1,1.28,1.46,1.64,1.82,1.98]],
[148.8,[1.18,1.36,1.55,1.74,1.9]],
[151.5,[1.12,1.32,1.52,1.72]],
[154.0,[1.22,1.44,1.63]],
[156.7,[1.16,1.4,1.58]],
[159.5,[1.3,1.5]]
];

// genes passing the p-value cut-off only: [-log10P, [log2FC...]]
const blueRows = [
[5.8,[-0.97,-0.85,-0.73,-0.61,-0.49,-0.37,-0.25,-0.13,-0.01,0.11,0.23,0.35,0.47,0.59,0.71,0.83,0.95]],
[7.1,[-0.91,-0.79,-0.67,-0.55,-0.43,-0.31,-0.19,-0.07,0.05,0.17,0.29,0.41,0.53,0.65,0.77,0.89]],
[8.3,[-0.92,-0.8,-0.68,-0.56,-0.44,-0.32,-0.2,-0.08,0.05,0.17,0.29,0.41,0.53,0.65,0.77,0.89,0.98]],
[9.6,[-0.97,-0.85,-0.73,-0.61,-0.49,-0.37,-0.25,-0.13,-0.01,0.11,0.23,0.35,0.47,0.59,0.71,0.83,0.95]],
[10.9,[-0.97,-0.85,-0.73,-0.61,-0.49,-0.37,-0.25,-0.13,-0.02,0.1,0.22,0.34,0.46,0.58,0.7,0.82,0.94]],
[12.2,[-0.91,-0.79,-0.67,-0.55,-0.43,-0.31,-0.19,-0.07,0.05,0.17,0.29,0.41,0.53,0.65,0.77,0.89,0.98]],
[13.4,[-0.92,-0.8,-0.68,-0.56,-0.44,-0.32,-0.2,-0.08,0.04,0.16,0.28,0.4,0.52,0.64,0.76,0.88,0.98]],
[14.7,[-0.97,-0.85,-0.73,-0.61,-0.49,-0.37,-0.25,-0.13,-0.01,0.11,0.23,0.35,0.47,0.59,0.71,0.83,0.95]],
[16.0,[-0.97,-0.85,-0.73,-0.61,-0.49,-0.37,-0.25,-0.13,-0.01,0.11,0.23,0.35,0.47,0.59,0.71,0.83,0.95]],
[17.3,[-0.91,-0.79,-0.67,-0.55,-0.43,-0.31,-0.19,-0.07,0.05,0.17,0.29,0.41,0.53,0.65,0.77,0.89,0.98]],
[18.6,[-0.98,-0.86,-0.74,-0.62,-0.5,-0.38,-0.26,-0.14,-0.02,0.1,0.22,0.34,0.46,0.58,0.7,0.82,0.94]],
[19.9,[-0.92,-0.8,-0.68,-0.56,-0.44,-0.32,-0.2,-0.09,0.16,0.28,0.4,0.52,0.64,0.76,0.88,0.98]],
[21.2,[-0.92,-0.8,-0.68,-0.56,-0.44,-0.32,-0.2,-0.1,0.17,0.29,0.41,0.53,0.65,0.77,0.89,0.98]],
[22.5,[-0.98,-0.86,-0.74,-0.62,-0.5,-0.38,-0.26,-0.15,-0.1,0.17,0.24,0.36,0.48,0.6,0.72,0.84,0.96]],
[23.8,[-0.98,-0.86,-0.74,-0.62,-0.5,-0.38,-0.26,-0.11,0.18,0.3,0.42,0.54,0.66,0.78,0.9]],
[25.1,[-0.92,-0.8,-0.68,-0.56,-0.44,-0.32,-0.2,-0.11,0.19,0.25,0.37,0.49,0.61,0.73,0.85,0.97]],
[26.4,[-0.92,-0.8,-0.68,-0.56,-0.44,-0.32,-0.21,-0.12,0.2,0.31,0.43,0.55,0.67,0.79,0.91,0.98]],
[27.7,[-0.98,-0.86,-0.74,-0.62,-0.5,-0.38,-0.27,-0.18,-0.12,0.2,0.27,0.39,0.51,0.63,0.75,0.87,0.98]],
[29.0,[-0.98,-0.86,-0.74,-0.62,-0.5,-0.38,-0.26,-0.13,0.21,0.33,0.45,0.57,0.69,0.81,0.93]],
[30.3,[-0.92,-0.8,-0.68,-0.56,-0.44,-0.32,-0.21,-0.14,0.21,0.28,0.4,0.52,0.64,0.76,0.88,0.98]],
[31.6,[-0.92,-0.8,-0.68,-0.56,-0.44,-0.32,-0.22,-0.15,0.22,0.34,0.46,0.58,0.7,0.82,0.94]],
[32.9,[-0.98,-0.86,-0.74,-0.62,-0.5,-0.39,-0.28,-0.15,0.23,0.29,0.41,0.53,0.65,0.77,0.89]],
[34.2,[-0.98,-0.86,-0.74,-0.62,-0.5,-0.38,-0.27,-0.16,0.23,0.35,0.47,0.59,0.71,0.83,0.95]],
[35.5,[-0.92,-0.8,-0.68,-0.56,-0.44,-0.33,-0.22,-0.16,0.24,0.3,0.42,0.54,0.66,0.78,0.9,0.98]],
[36.8,[-0.92,-0.8,-0.68,-0.56,-0.44,-0.33,-0.24,-0.17,0.24,0.33,0.45,0.57,0.69,0.81,0.93,0.98]],
[38.1,[-0.98,-0.86,-0.74,-0.62,-0.51,-0.4,-0.29,-0.17,0.25,0.32,0.44,0.56,0.68,0.8,0.92]],
[39.4,[-0.98,-0.86,-0.74,-0.62,-0.5,-0.39,-0.28,-0.18,0.26,0.38,0.5,0.62,0.74,0.86,0.97]],
[40.7,[-0.92,-0.8,-0.68,-0.57,-0.46,-0.35,-0.25,-0.19,0.26,0.32,0.42,0.53,0.65,0.77,0.89,0.98]],
[42.0,[-0.92,-0.8,-0.68,-0.56,-0.45,-0.35,-0.27,-0.2,0.27,0.36,0.47,0.59,0.71,0.83,0.95]],
[43.3,[-0.98,-0.86,-0.74,-0.62,-0.51,-0.41,-0.31,-0.2,0.28,0.34,0.46,0.58,0.7,0.82,0.94]],
[44.6,[-0.98,-0.86,-0.74,-0.62,-0.51,-0.4,-0.3,-0.21,0.28,0.4,0.52,0.64,0.76,0.88,0.98]],
[45.9,[-0.92,-0.8,-0.69,-0.58,-0.47,-0.37,-0.28,-0.21,0.29,0.34,0.44,0.55,0.67,0.79,0.91,0.98]],
[47.2,[-0.92,-0.8,-0.68,-0.57,-0.46,-0.36,-0.28,-0.22,0.29,0.38,0.49,0.61,0.73,0.85,0.96]],
[48.5,[-0.98,-0.86,-0.75,-0.64,-0.53,-0.43,-0.33,-0.22,0.3,0.36,0.48,0.6,0.72,0.84,0.96]],
[49.8,[-0.98,-0.86,-0.74,-0.62,-0.51,-0.41,-0.32,-0.23,0.3,0.42,0.54,0.66,0.78,0.9]],
[51.1,[-0.92,-0.81,-0.7,-0.59,-0.48,-0.38,-0.3,-0.23,0.31,0.37,0.46,0.57,0.69,0.81,0.93]],
[52.4,[-0.92,-0.8,-0.69,-0.58,-0.47,-0.37,-0.29,-0.24,0.31,0.4,0.51,0.63,0.75,0.87,0.98]],
[53.7,[-0.98,-0.87,-0.76,-0.65,-0.54,-0.44,-0.34,-0.24,0.32,0.38,0.5,0.62,0.74,0.86,0.98]],
[55.0,[-0.98,-0.86,-0.74,-0.63,-0.52,-0.42,-0.33,-0.25,0.32,0.44,0.56,0.68,0.8,0.92]],
[56.3,[-0.92,-0.81,-0.7,-0.6,-0.5,-0.4,-0.32,-0.25,0.33,0.39,0.48,0.59,0.71,0.83,0.95]],
[57.6,[-0.92,-0.81,-0.7,-0.59,-0.48,-0.38,-0.3,-0.26,0.33,0.42,0.53,0.65,0.77,0.89,0.98]],
[58.9,[-0.98,-0.87,-0.76,-0.65,-0.55,-0.45,-0.36,-0.26,0.34,0.4,0.52,0.64,0.76,0.88,0.98]],
[60.2,[-0.98,-0.86,-0.75,-0.64,-0.53,-0.43,-0.34,-0.27,0.34,0.46,0.58,0.7,0.82,0.94]],
[61.5,[-0.92,-0.81,-0.71,-0.61,-0.51,-0.41,-0.33,-0.27,0.34,0.4,0.49,0.6,0.72,0.84,0.96]],
[62.8,[-0.92,-0.81,-0.7,-0.59,-0.49,-0.39,-0.31,-0.27,0.34,0.43,0.54,0.66,0.78,0.9,0.98]],
[64.1,[-0.98,-0.87,-0.76,-0.66,-0.56,-0.46,-0.37,-0.28,0.35,0.41,0.53,0.65,0.77,0.89]],
[65.4,[-0.98,-0.86,-0.75,-0.64,-0.54,-0.44,-0.35,-0.28,0.35,0.47,0.59,0.71,0.83,0.95]],
[66.7,[-0.92,-0.82,-0.72,-0.62,-0.52,-0.42,-0.34,-0.29,0.36,0.42,0.5,0.62,0.74,0.86,0.98]],
[68.0,[-0.92,-0.81,-0.7,-0.6,-0.5,-0.41,-0.33,-0.29,0.37,0.45,0.56,0.68,0.8,0.92]],
[69.3,[-0.98,-0.87,-0.77,-0.67,-0.57,-0.48,-0.39,-0.3,0.38,0.44,0.56,0.68,0.8,0.92]],
[70.6,[-0.98,-0.87,-0.76,-0.65,-0.55,-0.45,-0.37,-0.3,0.38,0.5,0.62,0.74,0.86,0.97]],
[71.9,[-0.92,-0.82,-0.72,-0.62,-0.53,-0.44,-0.36,-0.31,0.39,0.44,0.53,0.64,0.76,0.88,0.98]],
[73.2,[-0.92,-0.81,-0.71,-0.61,-0.51,-0.42,-0.35,-0.31,0.4,0.48,0.59,0.7,0.82,0.94]],
[74.5,[-0.98,-0.88,-0.78,-0.68,-0.58,-0.49,-0.4,-0.32,0.41,0.46,0.58,0.7,0.82,0.94]],
[75.8,[-0.98,-0.87,-0.76,-0.66,-0.56,-0.47,-0.39,-0.32,0.41,0.52,0.64,0.76,0.88,0.98]],
[77.1,[-0.92,-0.82,-0.72,-0.63,-0.54,-0.45,-0.38,-0.33,0.42,0.47,0.56,0.67,0.78,0.9]],
[78.4,[-0.92,-0.81,-0.71,-0.61,-0.52,-0.43,-0.36,-0.33,0.43,0.51,0.61,0.72,0.84,0.95]],
[79.7,[-0.98,-0.88,-0.78,-0.68,-0.59,-0.5,-0.42,-0.34,0.44,0.5,0.61,0.72,0.84,0.96]],
[81.0,[-0.98,-0.87,-0.77,-0.67,-0.57,-0.48,-0.4,-0.34,0.44,0.55,0.66,0.78,0.9]],
[82.3,[-0.92,-0.83,-0.73,-0.64,-0.55,-0.47,-0.39,-0.35,0.45,0.5,0.6,0.7,0.81,0.92]],
[83.6,[-0.92,-0.82,-0.72,-0.62,-0.53,-0.45,-0.38,-0.35,0.46,0.54,0.64,0.75,0.86,0.97]],
[84.9,[-0.98,-0.88,-0.78,-0.69,-0.6,-0.52,-0.44,-0.36,0.47,0.53,0.64,0.75,0.86,0.97]],
[86.2,[-0.98,-0.87,-0.77,-0.67,-0.58,-0.5,-0.42,-0.37,0.48,0.58,0.69,0.8,0.91]],
[87.5,[-0.92,-0.83,-0.74,-0.65,-0.56,-0.48,-0.41,-0.37,0.49,0.54,0.63,0.73,0.84,0.95]],
[88.8,[-0.92,-0.82,-0.72,-0.63,-0.54,-0.46,-0.4,-0.38,0.5,0.57,0.67,0.77,0.88,0.98]],
[90.1,[-0.98,-0.88,-0.79,-0.7,-0.61,-0.53,-0.46,-0.39,0.51,0.57,0.67,0.78,0.89]],
[91.4,[-0.98,-0.88,-0.78,-0.68,-0.59,-0.51,-0.44,-0.39,0.52,0.62,0.72,0.83,0.94]],
[92.7,[-0.92,-0.83,-0.74,-0.66,-0.58,-0.5,-0.43,-0.4,0.53,0.57,0.66,0.76,0.86,0.96]],
[94.0,[-0.92,-0.82,-0.73,-0.64,-0.56,-0.48,-0.41,0.55,0.6,0.7,0.8,0.9,0.98]],
[95.3,[-0.98,-0.89,-0.8,-0.71,-0.62,-0.54,-0.47,-0.42,0.56,0.61,0.71,0.81,0.91]],
[96.6,[-0.98,-0.88,-0.78,-0.69,-0.6,-0.52,-0.46,-0.43,0.57,0.65,0.75,0.85,0.95]],
[97.9,[-0.93,-0.84,-0.75,-0.67,-0.59,-0.51,-0.44,0.58,0.62,0.7,0.79,0.89,0.98]],
[99.2,[-0.92,-0.83,-0.74,-0.65,-0.57,-0.5,-0.44,0.59,0.64,0.73,0.83,0.93]],
[100.5,[-0.98,-0.89,-0.8,-0.72,-0.64,-0.56,-0.49,-0.45,0.6,0.66,0.74,0.83,0.93]],
[101.8,[-0.98,-0.88,-0.79,-0.7,-0.62,-0.54,-0.48,-0.46,0.61,0.69,0.78,0.88,0.97]],
[103.1,[-0.93,-0.84,-0.76,-0.68,-0.6,-0.53,-0.47,0.62,0.65,0.72,0.81,0.91]],
[104.4,[-0.92,-0.83,-0.74,-0.66,-0.58,-0.52,-0.48,0.63,0.68,0.76,0.86,0.95]],
[105.7,[-0.98,-0.89,-0.81,-0.73,-0.65,-0.57,-0.51,-0.49,0.64,0.7,0.78,0.87,0.96]],
[107.0,[-0.98,-0.89,-0.8,-0.71,-0.63,-0.56,-0.5,0.65,0.72,0.81,0.9,0.98]],
[108.3,[-0.93,-0.85,-0.77,-0.69,-0.62,-0.56,-0.51,0.66,0.68,0.76,0.85,0.94]],
[109.6,[-0.93,-0.84,-0.75,-0.67,-0.6,-0.54,-0.52,0.67,0.71,0.79,0.88,0.96]],
[110.9,[-0.98,-0.9,-0.82,-0.74,-0.66,-0.59,-0.53,0.69,0.74,0.82,0.9,0.98]],
[112.2,[-0.98,-0.89,-0.8,-0.72,-0.64,-0.58,-0.54,0.7,0.77,0.85,0.93]],
[113.5,[-0.93,-0.85,-0.77,-0.7,-0.63,-0.58,-0.55,0.72,0.78,0.86,0.94]],
[114.8,[-0.93,-0.84,-0.76,-0.68,-0.61,-0.56,0.73,0.75,0.83,0.91,0.98]],
[116.1,[-0.98,-0.9,-0.82,-0.75,-0.68,-0.62,-0.57,0.75,0.77,0.85,0.93]],
[117.4,[-0.98,-0.89,-0.81,-0.73,-0.66,-0.6,-0.58,0.76,0.8,0.88,0.96]],
[118.7,[-0.94,-0.86,-0.78,-0.71,-0.65,-0.59,0.78,0.83,0.9,0.97]],
[120.0,[-0.93,-0.85,-0.77,-0.69,-0.63,-0.6,0.79,0.86,0.93]],
[121.3,[-0.98,-0.91,-0.83,-0.76,-0.69,-0.63,-0.61,0.81,0.87,0.94]],
[122.6,[-0.98,-0.9,-0.82,-0.74,-0.67,-0.62,0.82,0.84,0.91,0.98]],
[123.9,[-0.94,-0.87,-0.8,-0.73,-0.67,-0.63,0.84,0.88,0.95]],
[125.2,[-0.93,-0.85,-0.77,-0.7,-0.64,0.85,0.9,0.96]],
[126.5,[-0.98,-0.91,-0.84,-0.77,-0.7,-0.65,0.88,0.94]],
[127.8,[-0.98,-0.9,-0.82,-0.75,-0.68,-0.66,0.91,0.97]],
[129.1,[-0.95,-0.88,-0.81,-0.74,-0.67,0.94,0.98]],
[130.4,[-0.93,-0.86,-0.79,-0.72,-0.68,0.96]],
[131.7,[-0.98,-0.92,-0.85,-0.78,-0.72,-0.7]],
[133.0,[-0.98,-0.91,-0.84,-0.77,-0.71]],
[134.3,[-0.95,-0.89,-0.82,-0.76,-0.72]],
[135.6,[-0.94,-0.87,-0.8,-0.73]],
[136.9,[-0.98,-0.92,-0.86,-0.8,-0.75]],
[138.2,[-0.98,-0.91,-0.84,-0.77]],
[139.5,[-0.95,-0.89,-0.83,-0.77]],
[140.8,[-0.95,-0.88,-0.81,-0.78]],
[142.1,[-0.98,-0.92,-0.86,-0.8]],
[143.4,[-0.98,-0.92,-0.86,-0.81]],
[144.7,[-0.95,-0.89,-0.83]],
[146.0,[-0.95,-0.89,-0.84]],
[147.3,[-0.98,-0.92,-0.86]],
[148.6,[-0.98,-0.92,-0.87]],
[149.9,[-0.95,-0.9]],
[151.2,[-0.95,-0.89]],
[152.5,[-0.97,-0.91]],
[153.8,[-0.98,-0.92]],
[155.1,[-0.94]],
[156.4,[-0.95]]
];

// non-significant genes
const nsRows = [
[4.6,[-0.7,-0.6,-0.5,-0.4,-0.3,-0.2,-0.1,0,0.1,0.2,0.3,0.4,0.5,0.6,0.72]],
[4.2,[-0.66,-0.55,-0.45,-0.35,-0.25,-0.15,-0.05,0.05,0.15,0.25,0.35,0.45,0.55,0.66]],
[3.7,[-0.62,-0.52,-0.42,-0.32,-0.22,-0.12,-0.02,0.08,0.18,0.28,0.38,0.48,0.58,0.66]],
[3.2,[-0.58,-0.47,-0.37,-0.27,-0.17,-0.07,0.03,0.13,0.23,0.33,0.43,0.53,0.61]],
[2.8,[-0.55,-0.45,-0.35,-0.25,-0.15,-0.05,0.05,0.15,0.25,0.35,0.45,0.56]],
[2.3,[-0.5,-0.4,-0.3,-0.2,-0.1,0,0.1,0.2,0.3,0.4,0.5]],
[1.9,[-0.45,-0.35,-0.25,-0.15,-0.05,0.05,0.15,0.25,0.35,0.46]],
[1.4,[-0.39,-0.29,-0.19,-0.09,0.01,0.11,0.21,0.31,0.41]],
[1.0,[-0.33,-0.22,-0.11,0,0.11,0.22,0.34]],
[0.6,[-0.26,-0.15,-0.04,0.07,0.18,0.28]],
[0.3,[-0.18,-0.06,0.06,0.18]]
];

const fromRows = rows => rows.flatMap(r => r[1].map(x => [x, r[0]]));
const redData = fromRows(redLeftRows).concat(fromRows(redRightRows), redSparseLeft, redSparseRight, labeledGenes.map(g => [g[1], g[2]]));
const blueData = fromRows(blueRows);
const nsData = fromRows(nsRows);

const chart = echarts.init(document.getElementById('c'), null, {renderer: 'canvas'});
const gridMajor = {color: '#ebebeb', width: 1.6, type: 'solid'};
const gridMinor = {color: '#ebebeb', width: 0.8, type: 'solid'};
const ptBase = {type: 'scatter', symbol: 'circle', symbolSize: 8, progressive: 0, large: false, silent: true};
const subRich = {
  a: {fontSize: 27.5, fontFamily: FONT, color: '#000'},
  s: {fontSize: 19, fontFamily: FONT, color: '#000', padding: [12, 0, 0, 0]},
  p: {fontSize: 27.5, fontFamily: FONT, color: '#000', fontStyle: 'italic'}
};
const legRich = {
  a: {fontSize: 22, fontFamily: FONT, color: '#000', padding: [0, 0, 0, 4]},
  b: {fontSize: 22, fontFamily: FONT, color: '#000'},
  s: {fontSize: 15, fontFamily: FONT, color: '#000', padding: [9, 0, 0, 0]}
};

chart.setOption({
  animation: false,
  backgroundColor: '#fff',
  grid: {left: 118, right: 0, top: 87, bottom: 82, containLabel: false, outerBoundsMode: 'none'},
  legend: {
    top: 4, left: 279, icon: 'circle', itemWidth: 17, itemHeight: 17, itemGap: 36,
    data: legendNames,
    textStyle: {fontSize: 22, fontFamily: FONT, color: '#000', rich: legRich},
    formatter: n => n === legendNames[2] ? '{a|p – value and log}{s|2}{b| FC}' : '{a|' + n + '}'
  },
  xAxis: {
    type: 'value', min: -11.32, max: 11.14,
    axisLine: {show: true, onZero: false, lineStyle: {color: '#000', width: 2}},
    axisTick: {show: true, length: 8, customValues: xTicks, lineStyle: {color: '#333', width: 2}},
    axisLabel: {customValues: xTicks, fontSize: 27.5, fontFamily: FONT, color: '#4d4d4d', margin: 12},
    splitLine: {show: false},
    name: '{a|Log}{s|2}{a| fold change}', nameLocation: 'middle', nameGap: 51,
    nameTextStyle: {fontSize: 27.5, fontFamily: FONT, color: '#000', rich: subRich}
  },
  yAxis: {
    type: 'value', min: -12.27, max: 257.3,
    axisLine: {show: true, onZero: false, lineStyle: {color: '#000', width: 2}},
    axisTick: {show: true, length: 8, customValues: yTicks, lineStyle: {color: '#333', width: 2}},
    axisLabel: {customValues: yTicks, fontSize: 27.5, fontFamily: FONT, color: '#4d4d4d', margin: 14},
    splitLine: {show: false},
    name: '{a|−Log}{s|10}{a| }{p|P}', nameLocation: 'middle', nameGap: 76, nameRotate: 90,
    nameTextStyle: {fontSize: 27.5, fontFamily: FONT, color: '#000', rich: subRich}
  },
  series: [
    {type: 'scatter', name: 'grid', data: [], silent: true, z: 0,
     markLine: {z: 0, silent: true, symbol: ['none', 'none'], label: {show: false}, animation: false,
       data: [].concat(
         xTicks.map(v => ({xAxis: v, lineStyle: gridMajor})),
         yTicks.map(v => ({yAxis: v, lineStyle: gridMajor})),
         xMinor.map(v => ({xAxis: v, lineStyle: gridMinor})),
         yMinor.map(v => ({yAxis: v, lineStyle: gridMinor})))}},
    Object.assign({}, ptBase, {name: legendNames[1], data: blueData, z: 2, itemStyle: {color: 'rgba(65,105,225,0.5)'}}),
    Object.assign({}, ptBase, {name: legendNames[2], data: redData, z: 3, itemStyle: {color: 'rgba(238,0,0,0.5)'}}),
    Object.assign({}, ptBase, {name: legendNames[0], data: nsData, z: 4, itemStyle: {color: 'rgba(77,77,77,0.5)'}}),
    {type: 'scatter', name: 'cutoffs', data: [], silent: true, z: 6,
     markLine: {z: 6, silent: true, symbol: ['none', 'none'], label: {show: false}, animation: false,
       lineStyle: {color: '#333', width: 1.1, type: [6, 4]},
       data: fcCutoffs.map(v => ({xAxis: v})).concat([{yAxis: pCutoff}])}},
    {type: 'scatter', name: 'genes', silent: true, z: 8, symbolSize: 1,
     itemStyle: {color: 'rgba(0,0,0,0)'},
     data: labeledGenes.map(g => ({name: g[0], value: [g[1], g[2]]})),
     label: {show: true, position: 'inside', formatter: p => p.name, fontSize: 21.5, fontFamily: FONT, color: '#000'},
     labelLayout: {hideOverlap: false}}
  ]
});
</script></body></html>
